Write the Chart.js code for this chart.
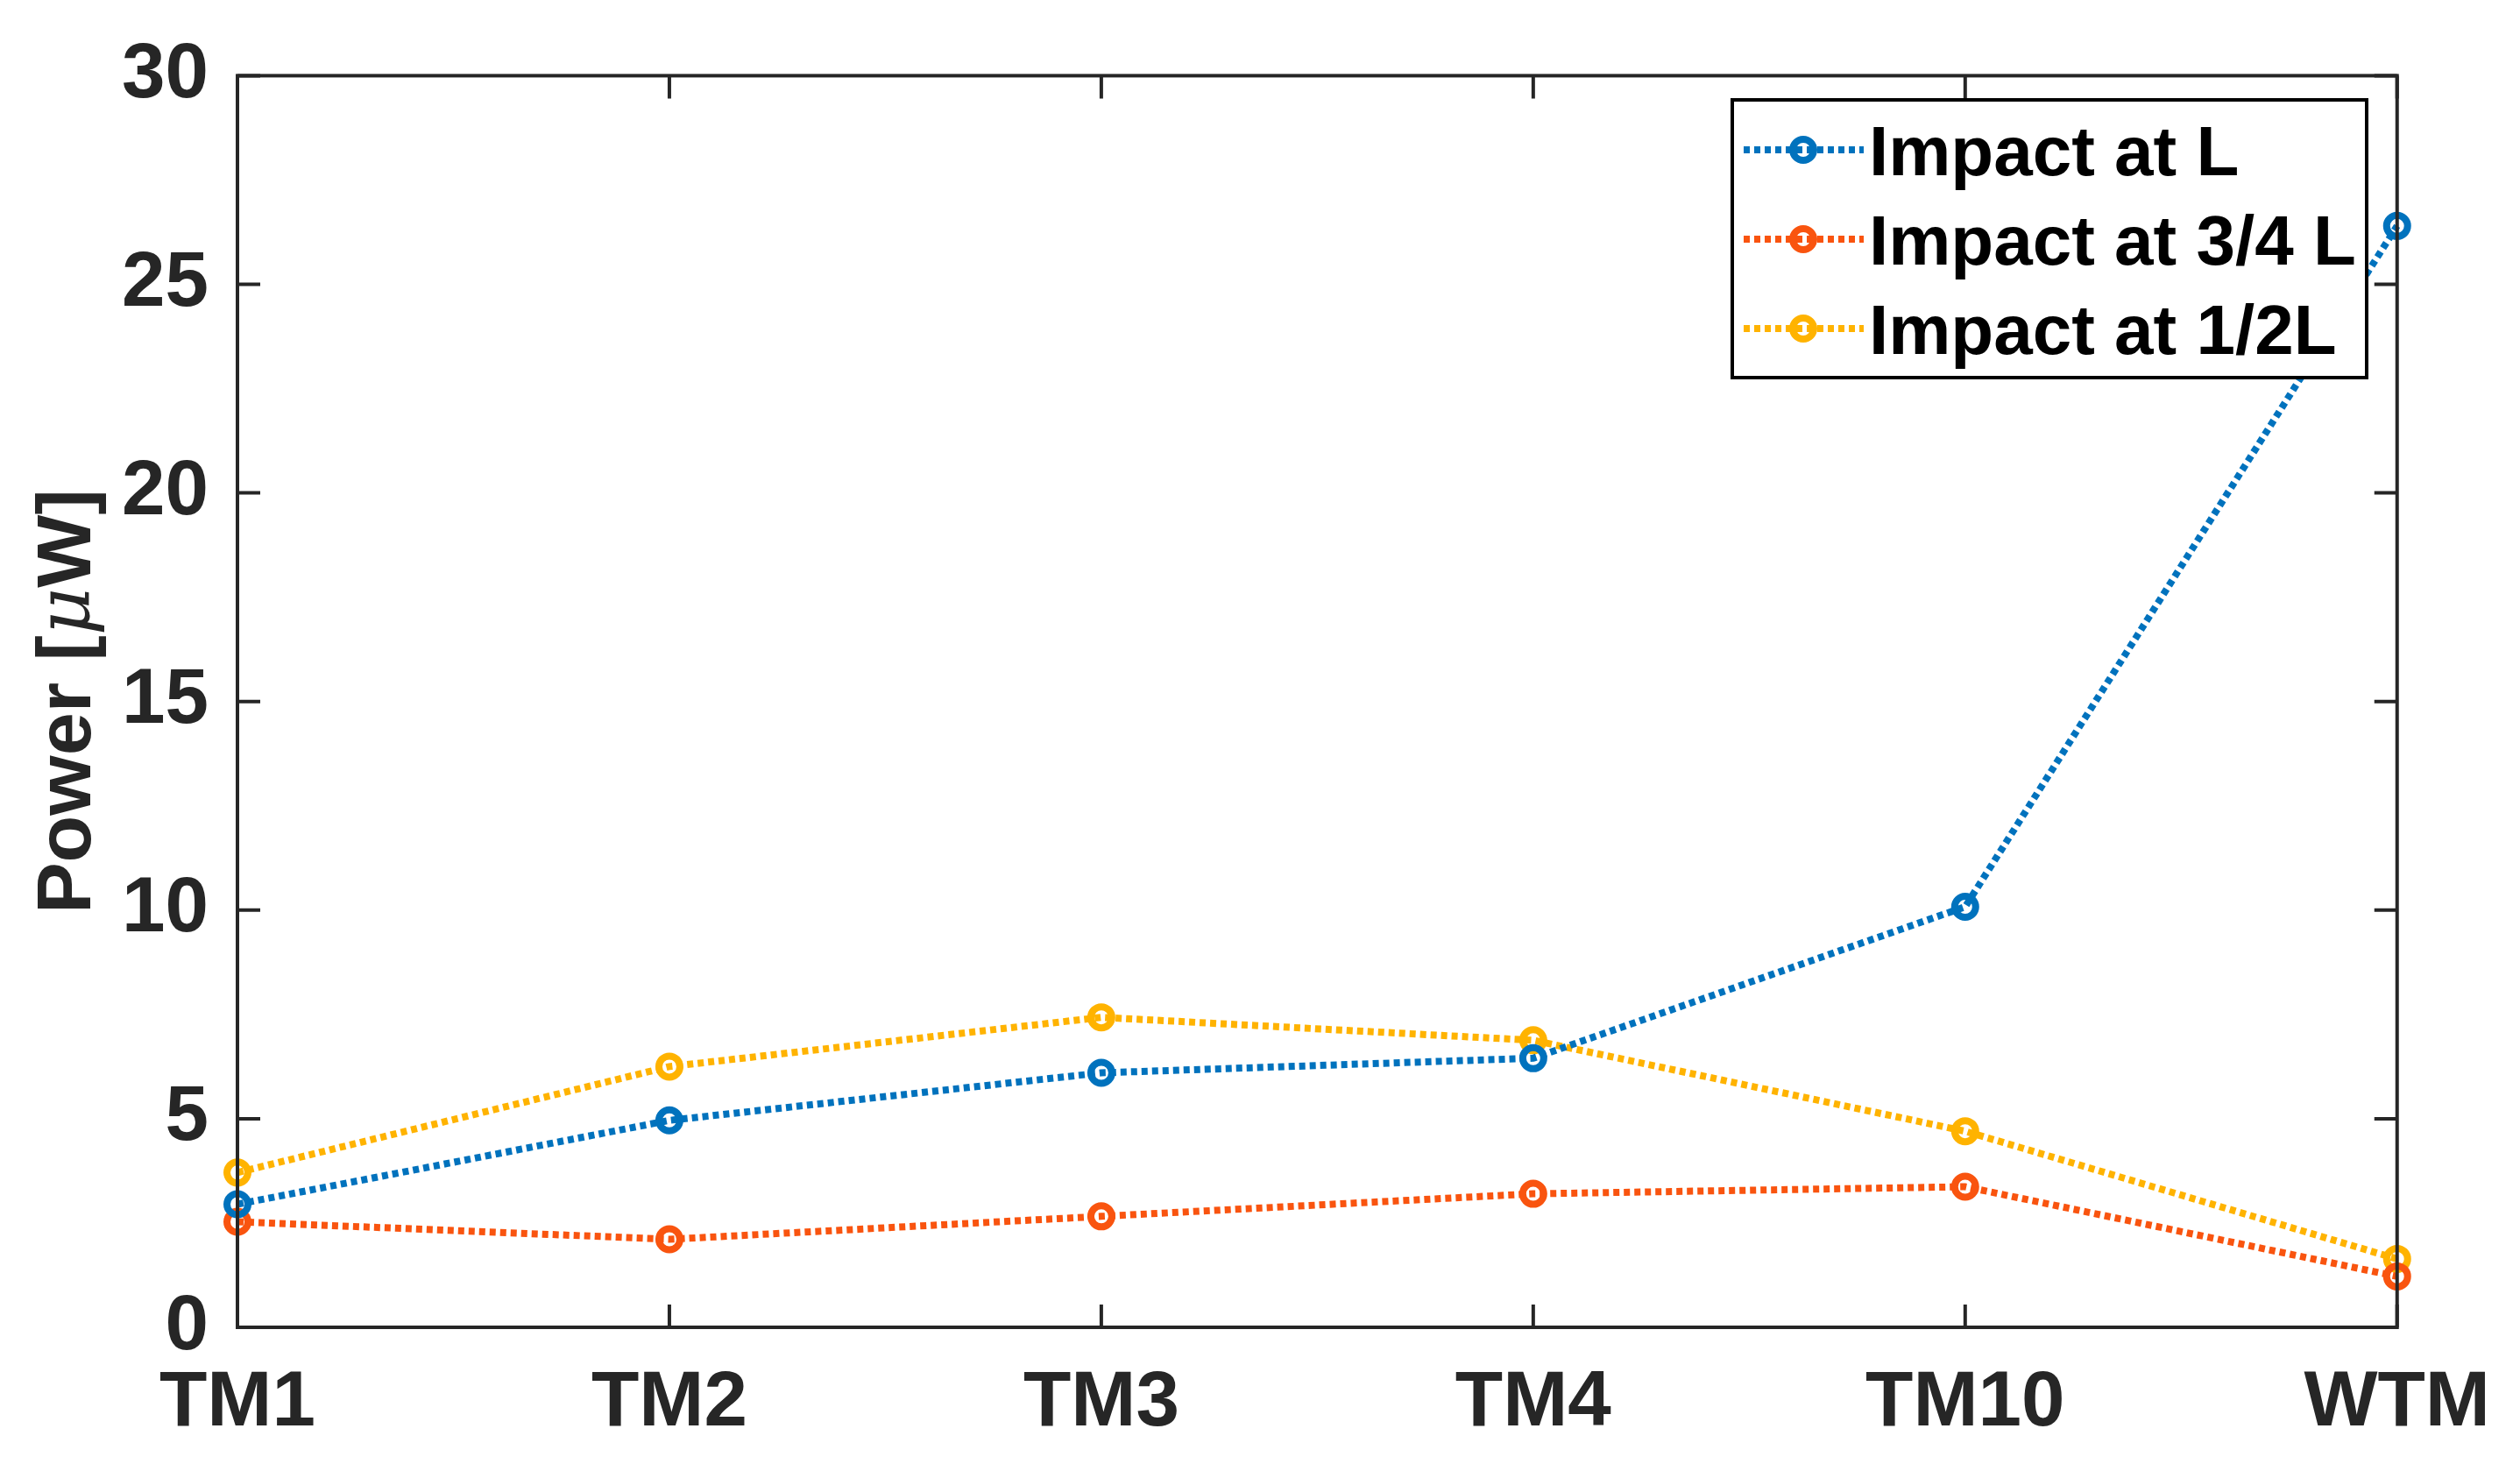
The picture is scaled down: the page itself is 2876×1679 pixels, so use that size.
<!DOCTYPE html>
<html>
<head>
<meta charset="utf-8">
<script src="https://cdn.jsdelivr.net/npm/chart.js@4"></script>
<style>
  html, body { margin: 0; padding: 0; background: #fff; }
  #wrap { width: 2876px; height: 1679px; }
</style>
</head>
<body>
<div id="wrap"><canvas id="power"></canvas></div>
<script>
// values
const modes = ["TM1", "TM2", "TM3", "TM4", "TM10", "WTM"];
const impactL = [2.95, 4.96, 6.1, 6.45, 10.08, 26.4];
const impact34L = [2.53, 2.11, 2.66, 3.2, 3.37, 1.22];
const impact12L = [3.71, 6.25, 7.43, 6.88, 4.7, 1.64];
const seriesNames = ["Impact at L", "Impact at 3/4 L", "Impact at 1/2L"];
const yTicks = [0, 5, 10, 15, 20, 25, 30];

const FONT = "'Liberation Sans', Arial, Helvetica, sans-serif";
const INK = "#262626";
const colors = ["#0072BD", "#F9540F", "#FFB300"];

function mkSet(label, data, color) {
  return {
    label: label,
    data: data,
    borderColor: color,
    backgroundColor: "transparent",
    borderWidth: 8,
    borderDash: [7, 5],
    borderCapStyle: "butt",
    pointRadius: 12,
    pointBorderWidth: 8,
    pointBackgroundColor: "transparent",
    pointBorderColor: color,
    tension: 0,
    clip: false,
  };
}

// box around the axes with inward ticks, like matlab
const boxPlugin = {
  id: "box",
  afterDatasetsDraw(chart) {
    const { ctx, chartArea: a, scales } = chart;
    const len = 26;
    ctx.save();
    ctx.strokeStyle = INK;
    ctx.lineWidth = 4;
    ctx.beginPath();
    yTicks.forEach((v) => {
      const y = scales.y.getPixelForValue(v);
      ctx.moveTo(a.left, y); ctx.lineTo(a.left + len, y);
      ctx.moveTo(a.right, y); ctx.lineTo(a.right - len, y);
    });
    modes.forEach((m, i) => {
      const x = scales.x.getPixelForValue(i);
      ctx.moveTo(x, a.bottom); ctx.lineTo(x, a.bottom - len);
      ctx.moveTo(x, a.top); ctx.lineTo(x, a.top + len);
    });
    ctx.stroke();
    ctx.strokeRect(a.left, a.top, a.right - a.left, a.bottom - a.top);

    // y axis title with italic mu
    const parts = [
      ["Power [", "bold 88px " + FONT],
      ["\u03bc", "italic 84px 'DejaVu Serif', serif"],
      ["W]", "bold 88px " + FONT],
    ];
    let total = 0;
    parts.forEach((p) => { ctx.font = p[1]; total += ctx.measureText(p[0]).width; });
    ctx.translate(79, (a.top + a.bottom) / 2);
    ctx.rotate(-Math.PI / 2);
    ctx.fillStyle = INK;
    ctx.textBaseline = "middle";
    ctx.textAlign = "left";
    let x = -total / 2;
    parts.forEach((p) => {
      ctx.font = p[1];
      ctx.fillText(p[0], x, 0);
      x += ctx.measureText(p[0]).width;
    });
    ctx.restore();
  },
};

// matlab style legend box, top right
const legendPlugin = {
  id: "boxLegend",
  afterDraw(chart) {
    const { ctx } = chart;
    const L = 1977, T = 114, R = 2701, B = 431;
    const rows = [171, 273, 375];
    ctx.save();
    ctx.fillStyle = "#fff";
    ctx.fillRect(L, T, R - L, B - T);
    ctx.strokeStyle = "#000";
    ctx.lineWidth = 4;
    ctx.strokeRect(L, T, R - L, B - T);
    chart.data.datasets.forEach((ds, i) => {
      const y = rows[i];
      ctx.strokeStyle = ds.borderColor;
      ctx.lineWidth = 8;
      ctx.setLineDash([7, 5]);
      ctx.beginPath();
      ctx.moveTo(1990, y); ctx.lineTo(2127, y);
      ctx.stroke();
      ctx.setLineDash([]);
      ctx.beginPath();
      ctx.arc(2058, y, 12, 0, Math.PI * 2);
      ctx.stroke();
      ctx.fillStyle = "#000";
      ctx.font = "bold 80px " + FONT;
      ctx.textBaseline = "alphabetic";
      ctx.fillText(ds.label, 2133, y + 29);
    });
    ctx.restore();
  },
};

new Chart(document.getElementById("power"), {
  type: "line",
  data: {
    labels: modes,
    datasets: [
      mkSet(seriesNames[0], impactL, colors[0]),
      mkSet(seriesNames[1], impact34L, colors[1]),
      mkSet(seriesNames[2], impact12L, colors[2]),
    ],
  },
  options: {
    responsive: true,
    maintainAspectRatio: false,
    animation: false,
    devicePixelRatio: 1,
    layout: { padding: { top: 80, right: 140, left: 0, bottom: 0 } },
    plugins: { legend: { display: false }, tooltip: { enabled: false } },
    scales: {
      x: {
        type: "category",
        offset: false,
        grid: { display: false, drawTicks: false },
        border: { display: false },
        ticks: {
          color: INK,
          padding: 34,
          maxRotation: 0,
          autoSkip: false,
          font: { family: FONT, size: 89, weight: "bold" },
        },
        afterFit(s) { s.height = 164; },
      },
      y: {
        min: 0,
        max: 30,
        grid: { display: false, drawTicks: false },
        border: { display: false },
        ticks: {
          stepSize: 5,
          color: INK,
          padding: 33,
          font: { family: FONT, size: 89, weight: "bold" },
        },
        afterFit(s) { s.width = 271; },
      },
    },
  },
  plugins: [boxPlugin, legendPlugin],
});
</script>
</body>
</html>
